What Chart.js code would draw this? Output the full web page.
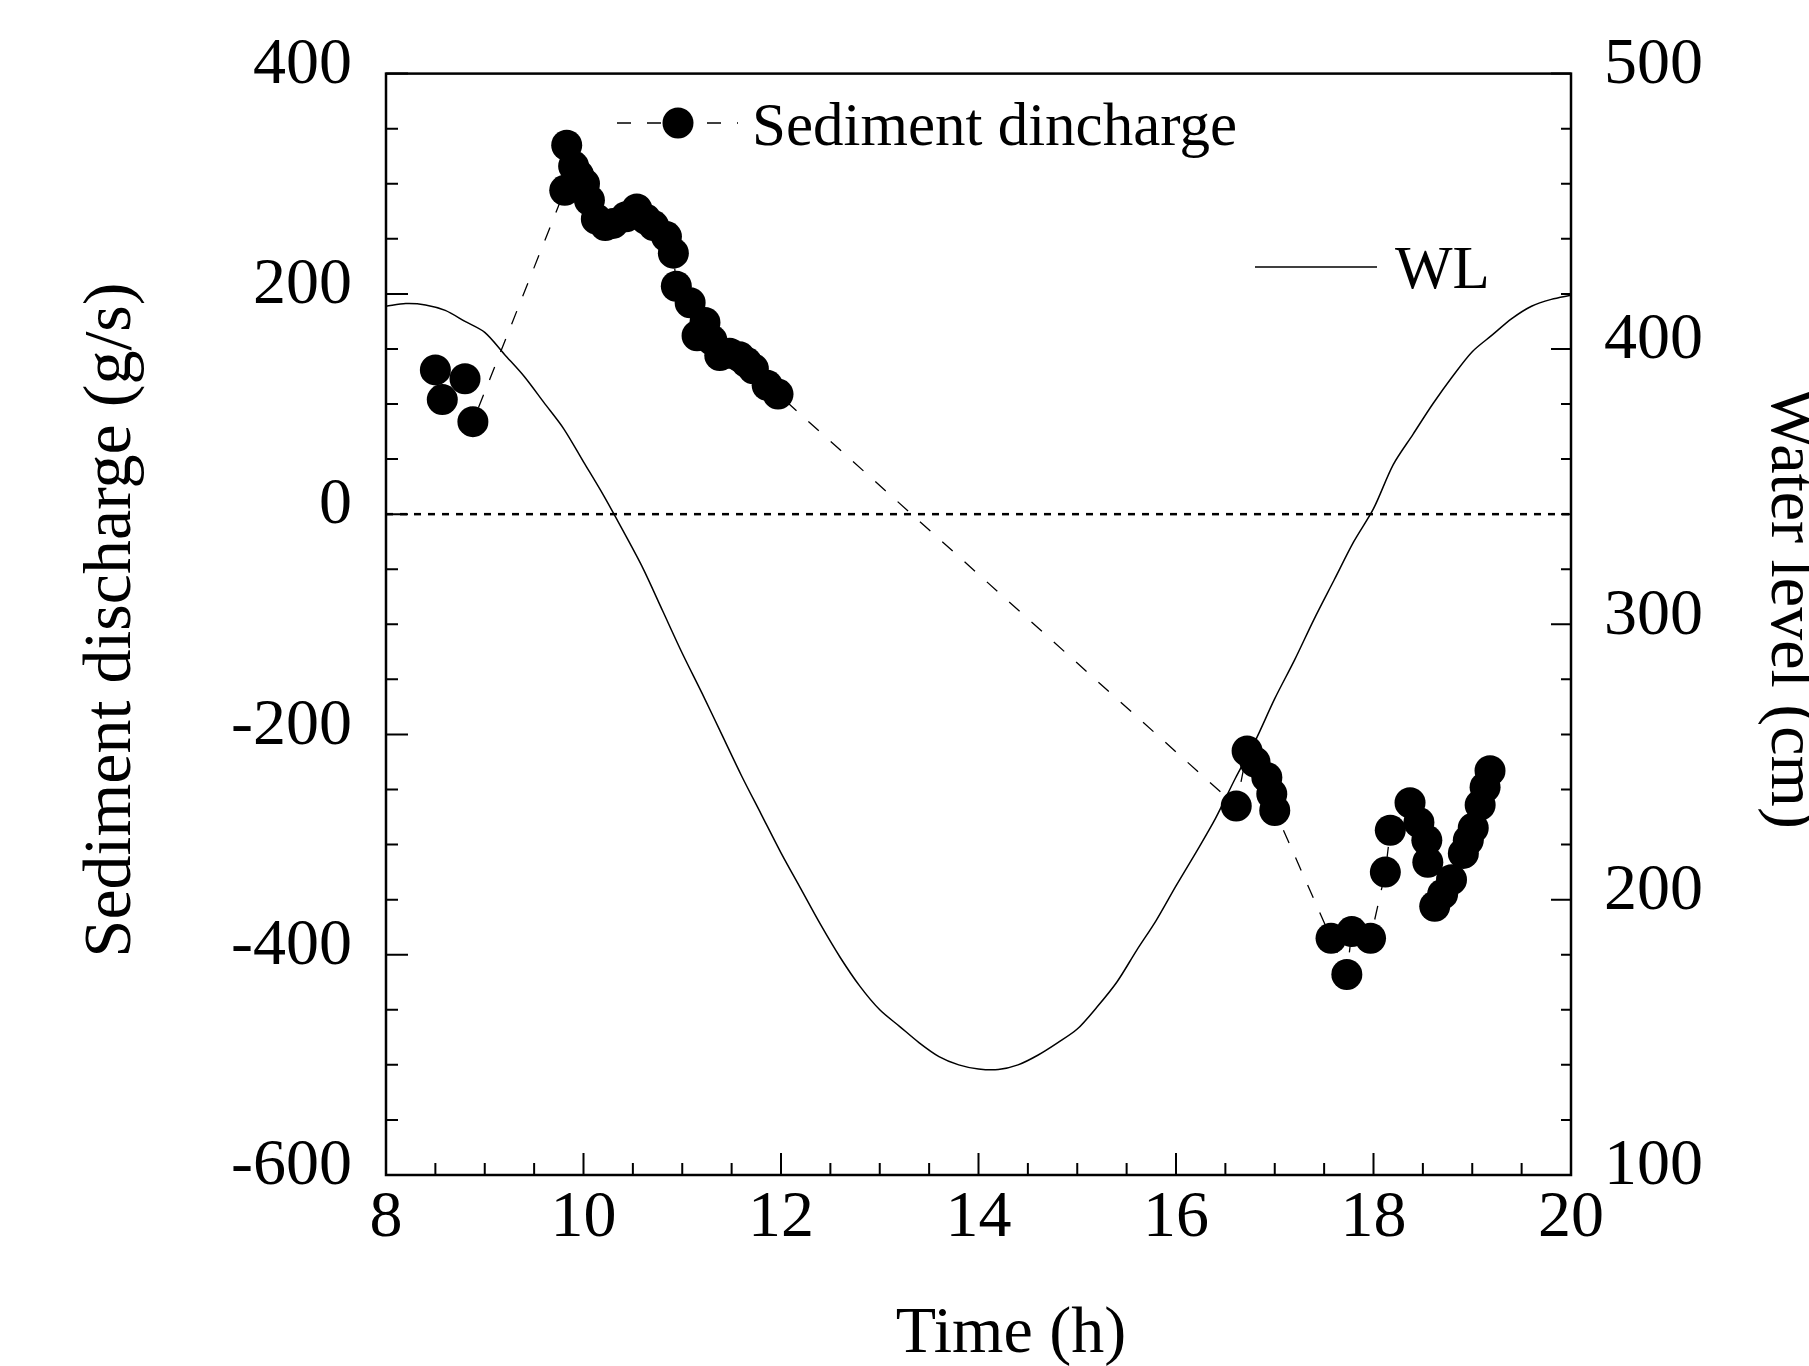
<!DOCTYPE html>
<html>
<head>
<meta charset="utf-8">
<script src="https://cdn.jsdelivr.net/npm/chart.js@4"></script>
<style>
    body { margin: 0; background: #fff; }
    #wrap { width: 1809px; height: 1366px; position: relative; }
</style>
</head>
<body>
<div id="wrap"><canvas id="sedimentGraph"></canvas></div>
<script>
// tick labels
var xLabels = [8, 10, 12, 14, 16, 18, 20];
var leftLabels = [-600, -400, -200, 0, 200, 400];
var rightLabels = [100, 200, 300, 400, 500];

// water level (right axis)
var wlTime = [8.0, 8.2, 8.4, 8.6, 8.8, 9.0, 9.2, 9.4, 9.6, 9.8,
    10.0, 10.2, 10.4, 10.6, 10.8, 11.0, 11.2, 11.4, 11.6, 11.8,
    12.0, 12.2, 12.4, 12.6, 12.8, 13.0, 13.2, 13.4, 13.6, 13.8,
    14.0, 14.2, 14.4, 14.6, 14.8, 15.0, 15.2, 15.4, 15.6, 15.8,
    16.0, 16.2, 16.4, 16.6, 16.8, 17.0, 17.2, 17.4, 17.6, 17.8,
    18.0, 18.2, 18.4, 18.6, 18.8, 19.0, 19.2, 19.4, 19.6, 19.8, 20.0];
var wlLevel = [415.5, 416.5, 416, 414, 410, 406, 398, 390, 380.5, 371,
    359, 347, 334, 320.5, 305, 289.5, 275, 260, 245, 231,
    217, 204, 191, 179, 168.5, 160, 154, 148, 143, 140,
    138.5, 138.3, 140, 143.5, 148, 153, 161, 170, 181.5, 192.5,
    205, 217, 229.5, 244, 257.5, 273, 287, 302, 316, 330,
    342, 358, 369, 380, 390, 399, 405, 411, 415.5, 418, 419.5];

// sediment discharge (left axis)
var sedTime = [8.50, 8.57, 8.80, 8.88,
    9.81, 9.83, 9.90, 9.95, 10.01, 10.06, 10.13, 10.22, 10.30, 10.43, 10.54, 10.63, 10.71, 10.84, 10.91,
    10.94, 11.08, 11.15, 11.23, 11.30, 11.38, 11.48, 11.58, 11.65, 11.72, 11.86, 11.97,
    16.61, 16.72, 16.80, 16.92, 16.97, 17.00,
    17.57, 17.73, 17.78, 17.97,
    18.12, 18.17, 18.37, 18.46, 18.54, 18.55, 18.62, 18.70, 18.79, 18.91, 18.96, 19.01, 19.08, 19.13, 19.18];
var sedValue = [131, 104, 123, 84,
    294, 335, 316, 308, 300, 285, 268, 262, 264, 270, 277, 268, 262, 252, 237,
    207, 192, 162, 174, 158, 144, 146, 143, 138, 132, 117, 109,
    -265, -215, -225, -239, -254, -269,
    -385, -418, -379, -385,
    -325, -287, -262, -280, -296, -316, -356, -345, -332, -308, -296, -285, -264, -248, -233];

var zeroTime = [8, 20];
var zeroValue = [0, 0];

var serif = "'Liberation Serif', 'DejaVu Serif', serif";
Chart.defaults.font.family = serif;
Chart.defaults.color = "#000";

function to_points(xs, ys) {
    var out = [];
    for (var i = 0; i < xs.length; i++) {
        out.push({ x: xs[i], y: ys[i] });
    }
    return out;
}

// frame plus inward tick marks
var frameAndTicks = {
    id: "frameAndTicks",
    afterDatasetsDraw(chart) {
        var ctx = chart.ctx;
        var a = chart.chartArea;
        var s = chart.scales;
        ctx.save();
        ctx.strokeStyle = "#000";
        ctx.lineWidth = 2;
        ctx.beginPath();
        s.x.ticks.forEach(function (t) {
            var px = s.x.getPixelForValue(t.value);
            var len = xLabels.includes(t.value) ? 22 : 12;
            ctx.moveTo(px, a.bottom);
            ctx.lineTo(px, a.bottom - len);
        });
        s.y.ticks.forEach(function (t) {
            var py = s.y.getPixelForValue(t.value);
            var len = leftLabels.includes(t.value) ? 22 : 12;
            ctx.moveTo(a.left, py);
            ctx.lineTo(a.left + len, py);
        });
        s.y2.ticks.forEach(function (t) {
            var py = s.y2.getPixelForValue(t.value);
            var len = rightLabels.includes(t.value) ? 20 : 10;
            ctx.moveTo(a.right, py);
            ctx.lineTo(a.right - len, py);
        });
        ctx.stroke();
        ctx.lineWidth = 2.5;
        ctx.strokeRect(a.left, a.top, a.right - a.left, a.bottom - a.top);
        ctx.restore();
    }
};

// axis titles and the two legend entries
var titlesAndLegend = {
    id: "titlesAndLegend",
    afterDraw(chart) {
        var ctx = chart.ctx;
        ctx.save();
        ctx.fillStyle = "#000";
        ctx.strokeStyle = "#000";
        ctx.font = "66px " + serif;
        ctx.textAlign = "center";
        ctx.textBaseline = "alphabetic";
        ctx.fillText("Time (h)", 1011, 1352);

        ctx.save();
        ctx.font = "68px " + serif;
        ctx.translate(130, 620);
        ctx.rotate(-Math.PI / 2);
        ctx.fillText("Sediment discharge (g/s)", 0, 0);
        ctx.restore();

        ctx.save();
        ctx.translate(1772, 608);
        ctx.rotate(Math.PI / 2);
        ctx.fillText("Water level (cm)", 0, 0);
        ctx.restore();

        ctx.font = "61px " + serif;
        ctx.textAlign = "left";
        ctx.lineWidth = 1.3;
        ctx.setLineDash([14, 16]);
        ctx.beginPath();
        ctx.moveTo(617, 123);
        ctx.lineTo(738, 123);
        ctx.stroke();
        ctx.setLineDash([]);
        ctx.beginPath();
        ctx.arc(678, 123, 15.5, 0, Math.PI * 2);
        ctx.fill();
        ctx.fillText("Sediment dincharge", 752, 145);

        ctx.lineWidth = 1.5;
        ctx.beginPath();
        ctx.moveTo(1255, 267);
        ctx.lineTo(1377, 267);
        ctx.stroke();
        ctx.fillText("WL", 1395, 288);
        ctx.restore();
    }
};

var tickFont = { family: serif, size: 66 };

var sedimentGraph = new Chart("sedimentGraph", {
    type: "line",
    data: {
        datasets: [
            {
                label: "WL",
                data: to_points(wlTime, wlLevel),
                yAxisID: "y2",
                borderColor: "#000",
                borderWidth: 1.5,
                pointRadius: 0,
                tension: 0.3,
                fill: false,
            },
            {
                label: "zero",
                data: to_points(zeroTime, zeroValue),
                yAxisID: "y",
                borderColor: "#000",
                borderWidth: 2.5,
                borderDash: [7, 7],
                pointRadius: 0,
                fill: false,
            },
            {
                label: "Sediment dincharge",
                data: to_points(sedTime, sedValue),
                yAxisID: "y",
                borderColor: "#000",
                borderWidth: 1.3,
                borderDash: [14, 16],
                pointRadius: 15.5,
                pointHoverRadius: 15.5,
                pointBackgroundColor: "#000",
                pointBorderWidth: 0,
                fill: false,
            },
        ],
    },
    options: {
        responsive: true,
        maintainAspectRatio: false,
        animation: false,
        events: [],
        layout: { padding: { top: 69, left: 0, right: 0, bottom: 0 } },
        plugins: {
            legend: { display: false },
            tooltip: { enabled: false },
        },
        scales: {
            x: {
                type: "linear",
                position: "bottom",
                min: 8,
                max: 20,
                grid: { display: false, drawTicks: false },
                border: { display: false },
                ticks: {
                    stepSize: 0.5,
                    autoSkip: false,
                    maxRotation: 0,
                    padding: 4,
                    font: tickFont,
                    color: "#000",
                    callback: (v) => (xLabels.includes(v) ? String(v) : ""),
                },
                afterFit: (scale) => { scale.height = 191; },
            },
            y: {
                type: "linear",
                position: "left",
                min: -600,
                max: 400,
                grid: { display: false, drawTicks: false },
                border: { display: false },
                ticks: {
                    stepSize: 50,
                    autoSkip: false,
                    padding: 34,
                    labelOffset: -8,
                    font: tickFont,
                    color: "#000",
                    callback: (v) => (leftLabels.includes(v) ? String(v) : ""),
                },
                afterFit: (scale) => { scale.width = 386; },
            },
            y2: {
                type: "linear",
                position: "right",
                min: 100,
                max: 500,
                grid: { display: false, drawTicks: false },
                border: { display: false },
                ticks: {
                    stepSize: 20,
                    autoSkip: false,
                    padding: 33,
                    labelOffset: -8,
                    font: tickFont,
                    color: "#000",
                    callback: (v) => (rightLabels.includes(v) ? String(v) : ""),
                },
                afterFit: (scale) => { scale.width = 238; },
            },
        },
    },
    plugins: [frameAndTicks, titlesAndLegend],
});
</script>
</body>
</html>
